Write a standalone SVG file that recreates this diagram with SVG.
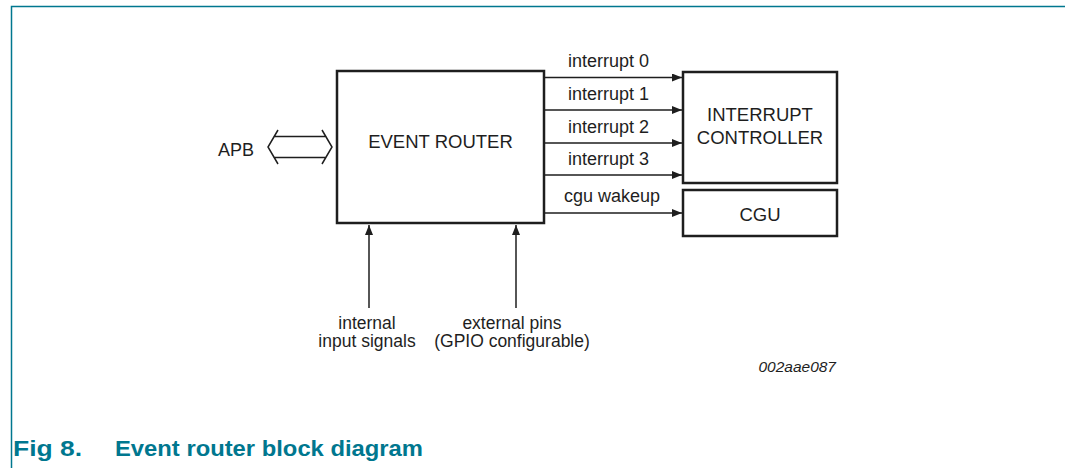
<svg xmlns="http://www.w3.org/2000/svg" width="1065" height="468" viewBox="0 0 1065 468">
<defs>
<style>
.box{fill:#fff;stroke:#1e1e1e;stroke-width:2.5}
.ln{stroke:#1e1e1e;stroke-width:1.5;fill:none}
.t{font-family:"Liberation Sans",Arial,sans-serif;font-size:18px;fill:#1e1e1e}
.ts{font-family:"Liberation Sans",Arial,sans-serif;font-size:17.5px;fill:#1e1e1e;text-anchor:middle}
.tb{font-family:"Liberation Sans",Arial,sans-serif;font-size:18.5px;fill:#1e1e1e;text-anchor:middle}
.frame{stroke:#00778f;stroke-width:1.5;fill:none}
.cap{font-family:"Liberation Sans",Arial,sans-serif;font-size:22px;font-weight:bold;fill:#00778f}
</style>
<marker id="ah" viewBox="0 0 10 8" refX="10" refY="4" markerWidth="10" markerHeight="8" markerUnits="userSpaceOnUse" orient="auto">
<path d="M0,0 L10,4 L0,8 Z" fill="#1e1e1e"/>
</marker>
</defs>
<rect width="1065" height="468" fill="#fff"/>
<path class="frame" d="M11.5,468 V6.5 H1065"/>
<g id="event-router">
<rect class="box" x="337" y="71" width="207" height="152"/>
<text class="tb" x="440.5" y="148">EVENT ROUTER</text>
</g>
<g id="interrupt-controller">
<rect class="box" x="683" y="72" width="154" height="111"/>
<text class="tb" x="760" y="121">INTERRUPT</text>
<text class="tb" x="760" y="144">CONTROLLER</text>
</g>
<g id="cgu">
<rect class="box" x="683" y="190" width="154" height="46"/>
<text class="tb" x="760" y="221">CGU</text>
</g>
<g id="apb">
<text class="t" x="218" y="156">APB</text>
</g>
<g id="connectors">
<path class="ln" d="M278,130 L268,147 L278,164 M274,136.5 H326 M274,157.5 H326 M322,130 L332,147 L322,164"/>
<line class="ln" x1="545" y1="77.5" x2="682" y2="77.5" marker-end="url(#ah)"/>
<line class="ln" x1="545" y1="110" x2="682" y2="110" marker-end="url(#ah)"/>
<line class="ln" x1="545" y1="143" x2="682" y2="143" marker-end="url(#ah)"/>
<line class="ln" x1="545" y1="175" x2="682" y2="175" marker-end="url(#ah)"/>
<line class="ln" x1="545" y1="213" x2="682" y2="213" marker-end="url(#ah)"/>
<line class="ln" x1="369" y1="308" x2="369" y2="225" marker-end="url(#ah)"/>
<line class="ln" x1="516" y1="308" x2="516" y2="225" marker-end="url(#ah)"/>
</g>
<g id="labels">
<text class="t" x="568" y="67">interrupt 0</text>
<text class="t" x="568" y="100">interrupt 1</text>
<text class="t" x="568" y="133">interrupt 2</text>
<text class="t" x="568" y="165">interrupt 3</text>
<text class="t" x="564" y="202">cgu wakeup</text>
<text class="ts" x="367" y="329">internal</text>
<text class="ts" x="367" y="347">input signals</text>
<text class="ts" x="512" y="329">external pins</text>
<text class="ts" x="512" y="347">(GPIO configurable)</text>
<text x="836" y="372" text-anchor="end" font-family="Liberation Sans, Arial, sans-serif" font-size="15.5" font-style="italic" fill="#1e1e1e">002aae087</text>
</g>
<text class="cap" x="13" y="456" textLength="69" lengthAdjust="spacingAndGlyphs">Fig 8.</text>
<text class="cap" x="115" y="456" textLength="308" lengthAdjust="spacingAndGlyphs">Event router block diagram</text>
</svg>
